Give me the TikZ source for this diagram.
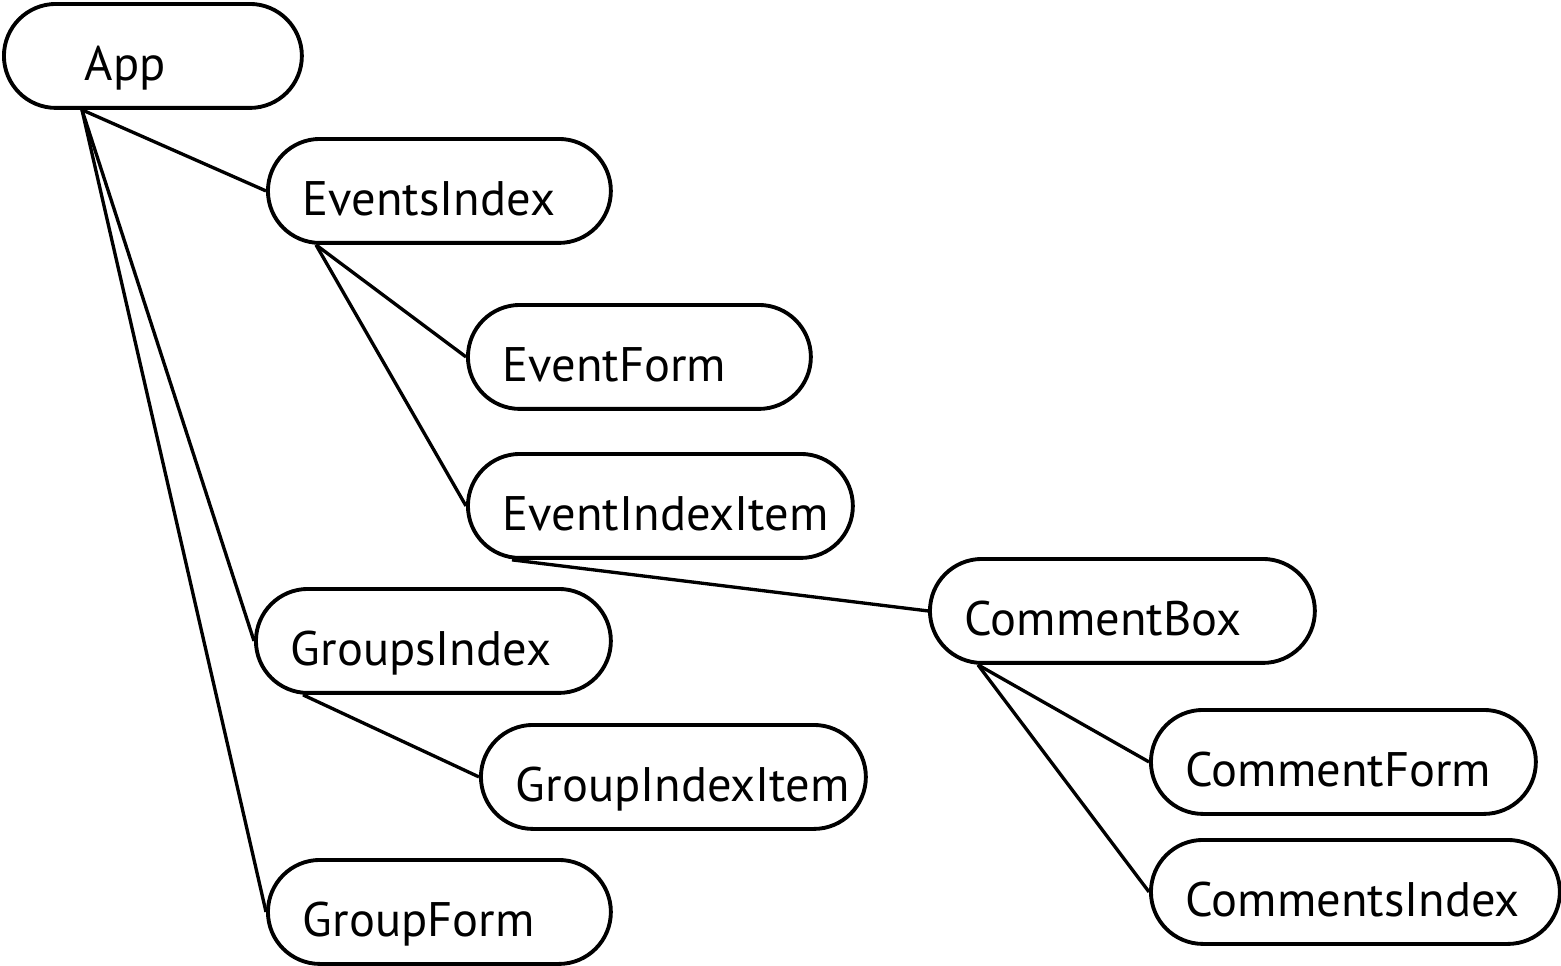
\documentclass[tikz,border=0pt]{standalone}
\usepackage{fontspec}
\setmainfont{PT Sans}
\begin{document}
\begin{tikzpicture}[x=0.02cm, y=-0.02cm,
    comp/.style={draw, line width=2.2pt, rounded corners=1.04cm, anchor=north west,
        minimum height=2.08cm, inner xsep=0.7cm, inner ysep=0pt, align=left,
        text height=0.98cm, text depth=0pt, text width=5.46cm,
        font=\fontsize{27.6}{33}\selectfont,
        execute at begin node={\hyphenpenalty=10000}},
    link/.style={line width=1.9pt}]
    \useasboundingbox (0,0) rectangle (1561,965);
    \node[comp, inner xsep=1.62cm, text width=2.72cm] (app) at (2,2) {App};
    \node[comp] (eventsindex) at (266,137) {EventsIndex};
    \node[comp] (eventform) at (466,303) {EventForm};
    \node[comp, text width=6.3cm] (eventindexitem) at (466,452) {EventIndexItem};
    \node[comp, text width=6.3cm] (commentbox) at (928,557) {CommentBox};
    \node[comp, text width=5.7cm] (groupsindex) at (254,587) {GroupsIndex};
    \node[comp, text width=6.3cm] (groupindexitem) at (479,723) {GroupIndexItem};
    \node[comp] (groupform) at (266,858) {GroupForm};
    \node[comp, text width=6.3cm] (commentform) at (1149,708) {CommentForm};
    \node[comp, text width=6.78cm] (commentsindex) at (1149,838) {CommentsIndex};
    % App
    \draw[link] ([xshift=1.6cm]app.south west) -- (eventsindex.west);
    \draw[link] ([xshift=1.6cm]app.south west) -- (groupsindex.west);
    \draw[link] ([xshift=1.6cm]app.south west) -- (groupform.west);
    % events
    \draw[link] ([xshift=1cm]eventsindex.south west) -- (eventform.west);
    \draw[link] ([xshift=1cm]eventsindex.south west) -- (eventindexitem.west);
    \draw[link] ([xshift=0.92cm]eventindexitem.south west) -- (commentbox.west);
    % groups
    \draw[link] ([xshift=0.98cm]groupsindex.south west) -- (groupindexitem.west);
    % comments
    \draw[link] ([xshift=1cm]commentbox.south west) -- (commentform.west);
    \draw[link] ([xshift=1cm]commentbox.south west) -- (commentsindex.west);
\end{tikzpicture}
\end{document}
